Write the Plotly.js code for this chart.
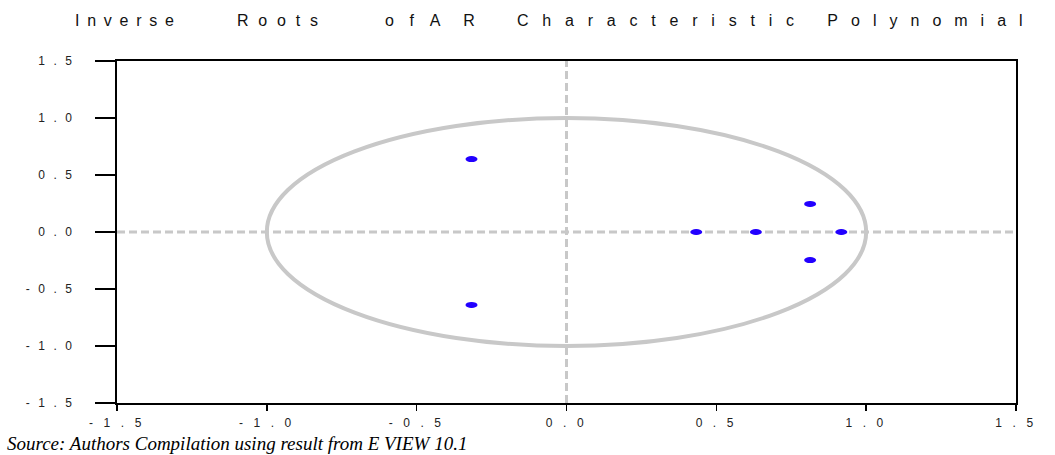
<!DOCTYPE html>
<html>
<head>
<meta charset="utf-8">
<script src="https://cdn.plot.ly/plotly-3.0.1.min.js"></script>
<style>
  html, body { margin: 0; padding: 0; background: #fff; }
  #chart { width: 1055px; height: 455px; }
  .xtick text { letter-spacing: 3.6px; }
  .ytick text { letter-spacing: 2.6px; }
</style>
</head>
<body>
<div id="chart"></div>
<script>
const rootsReal = [-0.317, -0.317, 0.433, 0.632, 0.917, 0.813, 0.813];
const rootsImag = [0.640, -0.640, 0.0, 0.0, 0.0, 0.246, -0.246];

const tickVals = [-1.5, -1.0, -0.5, 0.0, 0.5, 1.0, 1.5];
const tickLabels = ['- 1 . 5', '- 1 . 0', '- 0 . 5', '0 . 0', '0 . 5', '1 . 0', '1 . 5'];

// title words with the wide, uneven letter spacing of the original
const titleWords = ['Inverse', 'Roots', 'of', 'AR', 'Characteristic', 'Polynomial'];
const wordSpacing = [7.75, 9.8, 15.7, 22.8, 13.8, 13.0];
const gapSpacing = [50.8, 52.8, -4.4, 14.8, 15.0];
const sourceText = '<i>Source: Authors Compilation using result from E VIEW 10.1</i>';

let titleText = '';
titleWords.forEach((w, i) => {
  titleText += '<span style="letter-spacing:' + wordSpacing[i] + 'px">' + w + '</span>';
  if (i < gapSpacing.length) {
    titleText += '<span style="letter-spacing:' + gapSpacing[i] + 'px"> </span>';
  }
});

const pointColor = '#2200ff';
const refGray = '#c8c8c8';

const shapes = [
  // unit circle
  { type: 'circle', xref: 'x', yref: 'y', x0: -1, x1: 1, y0: -1, y1: 1,
    line: { color: refGray, width: 4 }, layer: 'below' },
  // dashed zero lines
  { type: 'line', xref: 'x', yref: 'y', x0: -1.5, x1: 1.5, y0: 0, y1: 0,
    line: { color: refGray, width: 3, dash: '8px,4px' }, layer: 'below' },
  { type: 'line', xref: 'x', yref: 'y', x0: 0, x1: 0, y0: -1.5, y1: 1.5,
    line: { color: refGray, width: 3, dash: '8px,4px' }, layer: 'below' }
];
// elliptical point markers anchored to the data
rootsReal.forEach((xv, i) => {
  shapes.push({
    type: 'circle', xref: 'x', yref: 'y',
    xsizemode: 'pixel', ysizemode: 'pixel',
    xanchor: xv, yanchor: rootsImag[i],
    x0: -6, x1: 6, y0: -3, y1: 3,
    fillcolor: pointColor, line: { width: 0 }, layer: 'above'
  });
});

const data = [{
  type: 'scatter', mode: 'markers',
  x: rootsReal, y: rootsImag,
  marker: { color: pointColor, size: 5, symbol: 'circle' },
  hoverinfo: 'x+y', showlegend: false
}];

const axisCommon = {
  range: [-1.5, 1.5],
  tickmode: 'array', tickvals: tickVals, ticktext: tickLabels,
  showgrid: false, zeroline: false,
  showline: true, mirror: true, linecolor: '#000', linewidth: 2,
  ticks: 'outside', tickcolor: '#000', tickwidth: 1.5,
  tickfont: { family: 'Liberation Sans, Arial, sans-serif', size: 12, color: '#222' },
  fixedrange: true
};

const layout = {
  width: 1055, height: 455,
  margin: { l: 117, r: 39, t: 61, b: 52, pad: 0 },
  paper_bgcolor: '#fff', plot_bgcolor: '#fff',
  title: {
    text: titleText,
    font: { family: 'Liberation Sans, Arial, sans-serif', size: 16, color: '#111' },
    xref: 'container', x: 75 / 1055, xanchor: 'left',
    yref: 'container', y: 1 - 20 / 455, yanchor: 'middle'
  },
  xaxis: Object.assign({}, axisCommon, { ticklen: 6, ticklabelstandoff: 2 }),
  yaxis: Object.assign({}, axisCommon, { ticklen: 20, ticklabelstandoff: 18 }),
  shapes: shapes,
  annotations: [{
    text: sourceText, showarrow: false,
    xref: 'paper', yref: 'paper',
    x: (5 - 117) / 899, xanchor: 'left',
    y: (403 - 443) / 342, yanchor: 'middle',
    font: { family: 'Liberation Serif, Times New Roman, serif', size: 19, color: '#000' }
  }]
};

Plotly.newPlot('chart', data, layout, { displayModeBar: false, staticPlot: true });
</script>
</body>
</html>
